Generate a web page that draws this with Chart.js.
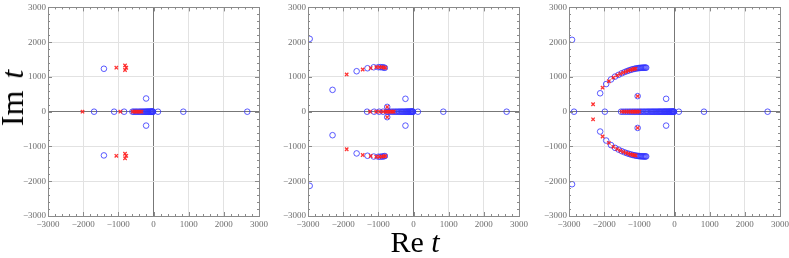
<!DOCTYPE html>
<html>
<head>
<meta charset="utf-8">
<script src="https://cdn.jsdelivr.net/npm/chart.js@4.4.1/dist/chart.umd.min.js"></script>
<style>
  body { margin: 0; background: #fff; }
  #wrap { position: relative; width: 789px; height: 258px; overflow: hidden; }
  canvas { position: absolute; top: 0; }
  .ttl { position: absolute; font-family: "Liberation Serif", serif; line-height: 1; color: #000; white-space: nowrap; }
</style>
</head>
<body>
<div id="wrap">
  <canvas id="c1" width="273" height="258" style="left:0px"></canvas>
  <canvas id="c2" width="273" height="258" style="left:260px"></canvas>
  <canvas id="c3" width="273" height="258" style="left:521px"></canvas>
  <div class="ttl" style="left:12px; top:98px; font-size:32px; word-spacing:4px; transform: translate(-50%,-50%) rotate(-90deg);">Im <i>t</i></div>
  <div class="ttl" style="left:415px; top:227px; font-size:30px; transform: translateX(-50%);">Re <i>t</i></div>
</div>
<script>
// 目盛り
const tickValues = [-3000, -2000, -1000, 0, 1000, 2000, 3000];
const minorStep = 200;

// パネル1
const p1Circles = [
  [-1410, 1235], [-1410, -1257], [-210, 380], [-210, -400],
  [-1690, 0], [-1120, 0], [-835, 0], [-600, 0], [-560, 0], [-520, 0], [-480, 0],
  [-440, 0], [-400, 0], [-365, 0], [-330, 0], [-300, 0], [-270, 0], [-240, 0],
  [-215, 0], [-190, 0], [-170, 0], [-150, 0], [-130, 0], [-112, 0], [-95, 0],
  [-80, 0], [-65, 0], [-52, 0], [-40, 0], [-30, 0], [-20, 0], [-12, 0],
  [128, 0], [848, 0], [2667, 0]
];
const p1Crosses = [
  [-2019, 0], [-943, 0], [-1057, 1266], [-810, 1330], [-775, 1265], [-810, 1200],
  [-1057, -1270], [-810, -1210], [-775, -1270], [-810, -1340],
  [-590, 0], [-540, 0], [-490, 0], [-440, 0], [-390, 0], [-340, 0]
];

// パネル2
const p2Circles = [
  [-2952, 2095], [-2952, -2133], [-2302, 628], [-2302, -676],
  [-1617, 1164], [-1617, -1200], [-1308, 1250], [-1308, -1267],
  [-1130, 1278], [-1130, -1290], [-1000, 1280], [-940, 1280], [-890, 1278],
  [-850, 1272], [-815, 1262], [-1000, -1295], [-940, -1295], [-890, -1290],
  [-850, -1285], [-815, -1275],
  [-229, 371], [-229, -400], [-748, 138], [-748, -157],
  [-1320, 0], [-1118, 0], [-976, 0], [-866, 0], [-748, 0], [-700, 0], [-650, 0],
  [-600, 0], [-555, 0], [-510, 0], [-470, 0], [-430, 0], [-395, 0], [-360, 0],
  [-330, 0], [-300, 0], [-270, 0], [-240, 0], [-215, 0], [-190, 0], [-170, 0],
  [-150, 0], [-130, 0], [-112, 0], [-95, 0], [-80, 0], [-65, 0], [-52, 0],
  [-40, 0], [-30, 0], [-20, 0], [-12, 0], [126, 0], [848, 0], [2648, 0]
];
const p2Crosses = [
  [-1900, 1072], [-1900, -1080], [-1445, 1214], [-1445, -1245],
  [-1217, 1255], [-1217, -1275], [-1060, 1282], [-1060, -1295],
  [-970, 1282], [-970, -1296], [-900, 1280], [-900, -1292],
  [-845, 1272], [-845, -1285], [-800, 1262], [-800, -1275],
  [-748, 138], [-748, -157],
  [-1237, 0], [-1060, 0], [-950, 0], [-860, 0], [-790, 0], [-748, 0],
  [-700, 0], [-650, 0], [-600, 0], [-560, 0]
];

// パネル3
const p3Circles = [
  [-2914, 2067], [-2914, -2086], [-2857, 0], [-1981, 0],
  [-2114, 530], [-1943, 795], [-1805, 928], [-1690, 1010], [-1590, 1060],
  [-1500, 1105], [-1420, 1140], [-1350, 1168], [-1290, 1190], [-1235, 1208],
  [-1185, 1222], [-1140, 1233], [-1100, 1242], [-1060, 1249], [-1025, 1254],
  [-990, 1258], [-960, 1261], [-930, 1263], [-900, 1265], [-875, 1266],
  [-850, 1267], [-825, 1267], [-805, 1266],
  [-2114, -571], [-1943, -829], [-1805, -960], [-1690, -1040], [-1590, -1090],
  [-1500, -1135], [-1420, -1168], [-1350, -1195], [-1290, -1215], [-1235, -1232],
  [-1185, -1245], [-1140, -1255], [-1100, -1263], [-1060, -1270], [-1025, -1275],
  [-990, -1279], [-960, -1282], [-930, -1284], [-900, -1285], [-875, -1286],
  [-850, -1287], [-825, -1287], [-805, -1286],
  [-1048, 448], [-1048, -467], [-238, 371], [-238, -400],
  [-1520, 0], [-1460, 0], [-1400, 0], [-1345, 0], [-1290, 0], [-1240, 0],
  [-1190, 0], [-1145, 0], [-1100, 0], [-1055, 0], [-1010, 0], [-970, 0],
  [-930, 0], [-890, 0], [-850, 0], [-810, 0], [-775, 0], [-740, 0], [-705, 0],
  [-670, 0], [-640, 0], [-610, 0], [-580, 0], [-550, 0], [-520, 0], [-490, 0],
  [-460, 0], [-435, 0], [-410, 0], [-385, 0], [-360, 0], [-335, 0], [-310, 0],
  [-290, 0], [-270, 0], [-250, 0], [-230, 0], [-210, 0], [-190, 0], [-172, 0],
  [-155, 0], [-138, 0], [-122, 0], [-107, 0], [-92, 0], [-78, 0], [-65, 0],
  [-52, 0], [-40, 0], [-30, 0], [-20, 0], [-12, 0],
  [124, 0], [838, 0], [2648, 0]
];
const p3Crosses = [
  [-2315, 215], [-2315, -219], [-2045, 690], [-2045, -714], [-1867, 876],
  [-1867, -895], [-1740, 980], [-1740, -1010], [-1630, 1045], [-1630, -1075],
  [-1540, 1090], [-1540, -1120], [-1455, 1125], [-1455, -1155], [-1380, 1155],
  [-1380, -1183], [-1315, 1180], [-1315, -1205], [-1255, 1200], [-1255, -1225],
  [-1200, 1215], [-1200, -1238], [-1150, 1228], [-1150, -1250], [-1105, 1238],
  [-1105, -1260], [-1048, 448], [-1048, -467],
  [-1500, 0], [-1430, 0], [-1370, 0], [-1310, 0], [-1255, 0], [-1200, 0],
  [-1150, 0], [-1100, 0], [-1050, 0], [-1000, 0]
];

// 目盛りラベル
function fmtTick(v) {
  return v < 0 ? "\u2212" + Math.abs(v) : String(v);
}

// 枠と内向きの目盛り線
const framePlugin = {
  id: "frame",
  afterDraw(chart) {
    const { ctx, chartArea: a, scales } = chart;
    ctx.save();
    ctx.strokeStyle = "#8a8a8a";
    ctx.lineWidth = 1;
    ctx.beginPath();
    for (let v = -3000; v <= 3000; v += minorStep) {
      const len = v % 1000 === 0 ? 4 : 2;
      const px = Math.round(scales.x.getPixelForValue(v)) + 0.5;
      const py = Math.round(scales.y.getPixelForValue(v)) + 0.5;
      ctx.moveTo(px, a.bottom); ctx.lineTo(px, a.bottom - len);
      ctx.moveTo(px, a.top); ctx.lineTo(px, a.top + len);
      ctx.moveTo(a.left, py); ctx.lineTo(a.left + len, py);
      ctx.moveTo(a.right, py); ctx.lineTo(a.right - len, py);
    }
    ctx.stroke();
    ctx.strokeRect(Math.round(a.left) + 0.5, Math.round(a.top) + 0.5,
      Math.round(a.right - a.left), Math.round(a.bottom - a.top));
    ctx.restore();
  }
};

function axisOpts(isX) {
  return {
    type: "linear",
    min: -3000,
    max: 3000,
    afterBuildTicks: (s) => { s.ticks = tickValues.map((v) => ({ value: v })); },
    afterFit: (s) => { if (isX) s.height = 42; else s.width = 48; },
    grid: {
      drawTicks: false,
      color: (c) => (c.tick && c.tick.value === 0 ? "#777" : "#e2e2e2"),
      lineWidth: 1
    },
    border: { display: false },
    ticks: {
      padding: isX ? 3 : 2,
      autoSkip: false,
      maxRotation: 0,
      color: "#6e6e6e",
      font: { family: "Liberation Serif", size: 9 },
      callback: fmtTick
    }
  };
}

function drawPanel(id, circles, crosses) {
  new Chart(document.getElementById(id), {
    type: "scatter",
    data: {
      datasets: [
        {
          data: crosses.map(([x, y]) => ({ x, y })),
          pointStyle: "crossRot",
          pointRadius: 2.4,
          borderColor: "rgba(255, 30, 30, 0.9)",
          borderWidth: 1.3
        },
        {
          data: circles.map(([x, y]) => ({ x, y })),
          pointStyle: "circle",
          pointRadius: 2.8,
          borderColor: "rgba(50, 50, 255, 0.8)",
          backgroundColor: "rgba(0,0,0,0)",
          borderWidth: 1
        }
      ]
    },
    options: {
      responsive: false,
      animation: false,
      layout: { padding: { top: 6, right: 14, left: 0, bottom: 0 } },
      plugins: { legend: { display: false }, tooltip: { enabled: false } },
      scales: { x: axisOpts(true), y: axisOpts(false) }
    },
    plugins: [framePlugin]
  });
}

drawPanel("c1", p1Circles, p1Crosses);
drawPanel("c2", p2Circles, p2Crosses);
drawPanel("c3", p3Circles, p3Crosses);
</script>
</body>
</html>
